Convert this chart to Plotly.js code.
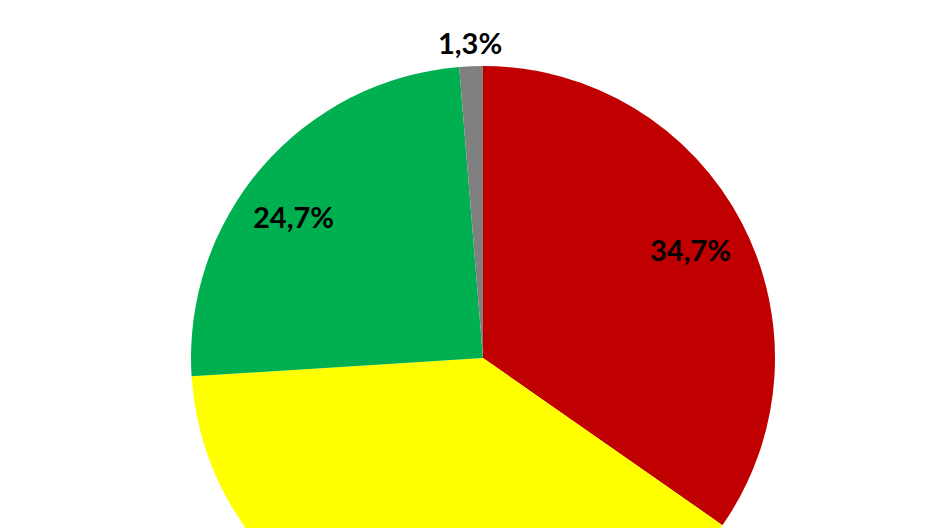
<!DOCTYPE html>
<html>
<head>
<meta charset="utf-8">
<script src="https://cdn.plot.ly/plotly-3.0.1.min.js"></script>
<style>
html,body{margin:0;padding:0;overflow:hidden;background:#fff;}
#chart{width:940px;height:700px;}
</style>
</head>
<body>
<div id="chart"></div>
<script>
const categories = ["Rot", "Gelb", "Grün", "Grau"];
const shares = [34.7, 39.3, 24.7, 1.3];
const sliceColors = ["#C00000", "#FFFF00", "#00B050", "#808080"];
const labelTexts = shares.map(v => v.toFixed(1).replace('.', ',') + '%');
const labelRadius = [0.80, 0.80, 0.81, 1.08];   // fraction of pie radius
const labelShiftX = [0, 0, -11, 0];
const labelShiftY = [0, 0, -13, 0];

// layout geometry
const W = 940, H = 700, VIEW_H = 528;
const M = {l: 26, r: 0, t: 66, b: 50};
const plotW = W - M.l - M.r, plotH = H - M.t - M.b;
const R = Math.min(plotW, plotH) / 2;
const cy = M.t + plotH / 2;

const total = shares.reduce((a, b) => a + b, 0);
let cum = 0;
const annotations = [];
shares.forEach((v, i) => {
  const mid = (cum + v / 2) / total * 2 * Math.PI;
  cum += v;
  const r = R * labelRadius[i];
  const pixY = cy - r * Math.cos(mid);
  if (pixY > VIEW_H) return; // label lies in the part of the pie outside the window
  annotations.push({
    xref: 'paper', yref: 'paper',
    x: 0.5 + r * Math.sin(mid) / plotW,
    y: 0.5 + r * Math.cos(mid) / plotH,
    xanchor: 'center', yanchor: 'middle',
    xshift: labelShiftX[i],
    yshift: labelShiftY[i],
    text: '<b>' + labelTexts[i] + '</b>',
    showarrow: false,
    font: {family: 'Lato, "Liberation Sans", sans-serif', size: 29, color: '#000000'}
  });
});

const trace = {
  type: 'pie',
  labels: categories,
  values: shares,
  textinfo: 'none',
  sort: false,
  direction: 'clockwise',
  rotation: 0,
  marker: {colors: sliceColors, line: {width: 0}},
  hoverinfo: 'label+percent'
};

const layout = {
  width: W,
  height: H,
  margin: M,
  showlegend: false,
  paper_bgcolor: '#ffffff',
  plot_bgcolor: '#ffffff',
  annotations: annotations
};

Plotly.newPlot('chart', [trace], layout, {displayModeBar: false, staticPlot: true});
</script>
</body>
</html>
